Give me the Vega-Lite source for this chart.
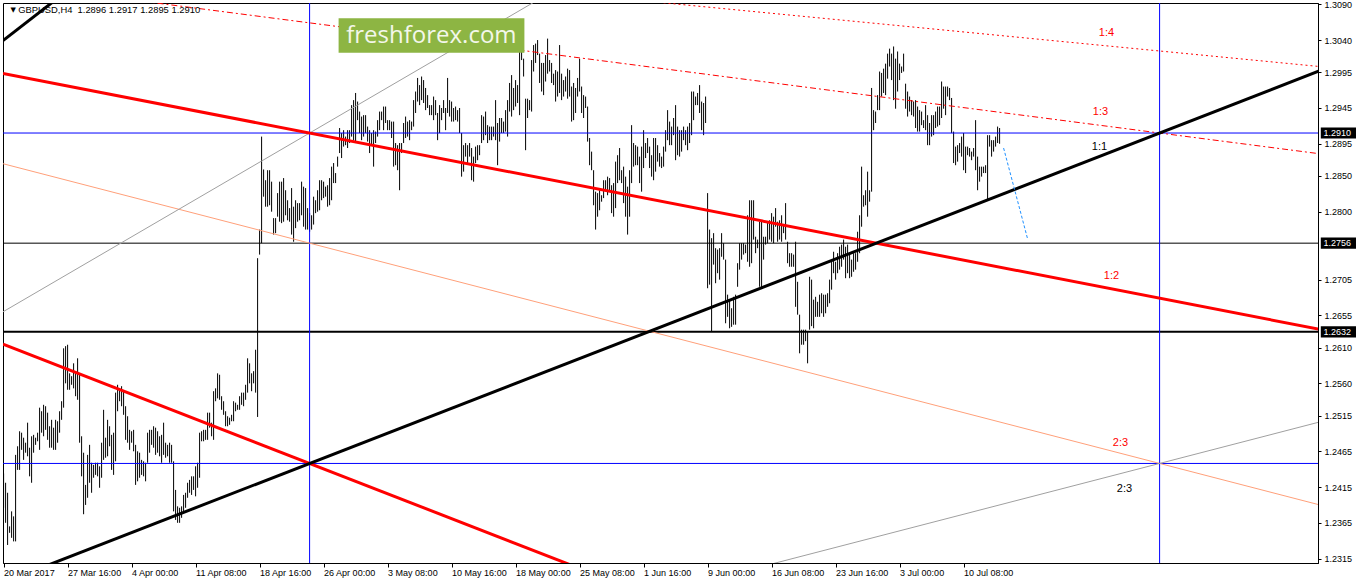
{
"$schema":"https://vega.github.io/schema/vega-lite/v6.json",
"width":1315,"height":560,
"autosize":{"type":"none"},
"padding":{"left":3,"top":3,"right":40,"bottom":21},
"background":"white",
"config":{"view":{"stroke":"black","strokeWidth":1},"axis":{"labelFont":"Liberation Sans","labelFontSize":9,"labelColor":"#000","domainColor":"#000","tickColor":"#000","grid":false,"title":null,"labelOverlap":false,"labelFlush":false}},
"datasets":{
"bars":[
{"i":0,"h":1.2434,"l":1.2386},{"i":1,"h":1.2421,"l":1.2365},{"i":2,"h":1.2407,"l":1.2334},{"i":3,"h":1.2360,"l":1.2351},{"i":4,"h":1.2381,"l":1.2344},{"i":5,"h":1.2374,"l":1.2339},{"i":6,"h":1.2460,"l":1.2339},{"i":7,"h":1.2472,"l":1.2439},{"i":8,"h":1.2493,"l":1.2439},{"i":9,"h":1.2491,"l":1.2467},
{"i":10,"h":1.2484,"l":1.2453},{"i":11,"h":1.2477,"l":1.2463},{"i":12,"h":1.2505,"l":1.2458},{"i":13,"h":1.2470,"l":1.2430},{"i":14,"h":1.2486,"l":1.2421},{"i":15,"h":1.2488,"l":1.2463},{"i":16,"h":1.2484,"l":1.2474},{"i":17,"h":1.2491,"l":1.2479},{"i":18,"h":1.2526,"l":1.2467},{"i":19,"h":1.2521,"l":1.2491},
{"i":20,"h":1.2530,"l":1.2486},{"i":21,"h":1.2528,"l":1.2495},{"i":22,"h":1.2519,"l":1.2481},{"i":23,"h":1.2500,"l":1.2470},{"i":24,"h":1.2509,"l":1.2470},{"i":25,"h":1.2498,"l":1.2467},{"i":26,"h":1.2509,"l":1.2467},{"i":27,"h":1.2507,"l":1.2477},{"i":28,"h":1.2521,"l":1.2491},{"i":29,"h":1.2535,"l":1.2509},
{"i":30,"h":1.2609,"l":1.2526},{"i":31,"h":1.2612,"l":1.2560},{"i":32,"h":1.2614,"l":1.2551},{"i":33,"h":1.2574,"l":1.2551},{"i":34,"h":1.2570,"l":1.2558},{"i":35,"h":1.2588,"l":1.2553},{"i":36,"h":1.2577,"l":1.2542},{"i":37,"h":1.2595,"l":1.2537},{"i":38,"h":1.2574,"l":1.2477},{"i":39,"h":1.2486,"l":1.2430},
{"i":40,"h":1.2463,"l":1.2377},{"i":41,"h":1.2418,"l":1.2390},{"i":42,"h":1.2460,"l":1.2400},{"i":43,"h":1.2474,"l":1.2421},{"i":44,"h":1.2449,"l":1.2407},{"i":45,"h":1.2446,"l":1.2428},{"i":46,"h":1.2449,"l":1.2432},{"i":47,"h":1.2449,"l":1.2430},{"i":48,"h":1.2444,"l":1.2414},{"i":49,"h":1.2477,"l":1.2428},
{"i":50,"h":1.2523,"l":1.2453},{"i":51,"h":1.2484,"l":1.2456},{"i":52,"h":1.2509,"l":1.2458},{"i":53,"h":1.2500,"l":1.2472},{"i":54,"h":1.2488,"l":1.2439},{"i":55,"h":1.2491,"l":1.2432},{"i":56,"h":1.2547,"l":1.2451},{"i":57,"h":1.2558,"l":1.2521},{"i":58,"h":1.2553,"l":1.2535},{"i":59,"h":1.2556,"l":1.2528},
{"i":60,"h":1.2549,"l":1.2516},{"i":61,"h":1.2528,"l":1.2481},{"i":62,"h":1.2514,"l":1.2477},{"i":63,"h":1.2495,"l":1.2467},{"i":64,"h":1.2493,"l":1.2477},{"i":65,"h":1.2495,"l":1.2465},{"i":66,"h":1.2474,"l":1.2418},{"i":67,"h":1.2465,"l":1.2423},{"i":68,"h":1.2463,"l":1.2428},{"i":69,"h":1.2453,"l":1.2432},
{"i":70,"h":1.2451,"l":1.2430},{"i":71,"h":1.2449,"l":1.2423},{"i":72,"h":1.2491,"l":1.2449},{"i":73,"h":1.2495,"l":1.2463},{"i":74,"h":1.2495,"l":1.2474},{"i":75,"h":1.2500,"l":1.2470},{"i":76,"h":1.2498,"l":1.2460},{"i":77,"h":1.2493,"l":1.2463},{"i":78,"h":1.2486,"l":1.2458},{"i":79,"h":1.2488,"l":1.2449},
{"i":80,"h":1.2505,"l":1.2460},{"i":81,"h":1.2477,"l":1.2456},{"i":82,"h":1.2474,"l":1.2458},{"i":83,"h":1.2477,"l":1.2449},{"i":84,"h":1.2474,"l":1.2449},{"i":85,"h":1.2451,"l":1.2381},{"i":86,"h":1.2411,"l":1.2369},{"i":87,"h":1.2388,"l":1.2365},{"i":88,"h":1.2386,"l":1.2365},{"i":89,"h":1.2388,"l":1.2372},
{"i":90,"h":1.2404,"l":1.2379},{"i":91,"h":1.2407,"l":1.2386},{"i":92,"h":1.2421,"l":1.2400},{"i":93,"h":1.2425,"l":1.2407},{"i":94,"h":1.2430,"l":1.2404},{"i":95,"h":1.2430,"l":1.2411},{"i":96,"h":1.2444,"l":1.2402},{"i":97,"h":1.2449,"l":1.2414},{"i":98,"h":1.2491,"l":1.2428},{"i":99,"h":1.2493,"l":1.2479},
{"i":100,"h":1.2495,"l":1.2479},{"i":101,"h":1.2495,"l":1.2481},{"i":102,"h":1.2519,"l":1.2481},{"i":103,"h":1.2519,"l":1.2498},{"i":104,"h":1.2505,"l":1.2486},{"i":105,"h":1.2549,"l":1.2481},{"i":106,"h":1.2553,"l":1.2535},{"i":107,"h":1.2574,"l":1.2539},{"i":108,"h":1.2572,"l":1.2537},{"i":109,"h":1.2542,"l":1.2523},
{"i":110,"h":1.2535,"l":1.2516},{"i":111,"h":1.2521,"l":1.2500},{"i":112,"h":1.2514,"l":1.2500},{"i":113,"h":1.2512,"l":1.2502},{"i":114,"h":1.2516,"l":1.2507},{"i":115,"h":1.2535,"l":1.2507},{"i":116,"h":1.2533,"l":1.2521},{"i":117,"h":1.2530,"l":1.2523},{"i":118,"h":1.2542,"l":1.2523},{"i":119,"h":1.2547,"l":1.2530},
{"i":120,"h":1.2547,"l":1.2528},{"i":121,"h":1.2558,"l":1.2537},{"i":122,"h":1.2595,"l":1.2547},{"i":123,"h":1.2588,"l":1.2560},{"i":124,"h":1.2574,"l":1.2549},{"i":125,"h":1.2577,"l":1.2560},{"i":126,"h":1.2607,"l":1.2547},{"i":127,"h":1.2735,"l":1.2513},{"i":128,"h":1.2775,"l":1.2740},{"i":129,"h":1.2905,"l":1.2756},
{"i":130,"h":1.2859,"l":1.2821},{"i":131,"h":1.2844,"l":1.2807},{"i":132,"h":1.2858,"l":1.2807},{"i":133,"h":1.2858,"l":1.2809},{"i":134,"h":1.2842,"l":1.2800},{"i":135,"h":1.2791,"l":1.2768},{"i":136,"h":1.2791,"l":1.2770},{"i":137,"h":1.2826,"l":1.2793},{"i":138,"h":1.2842,"l":1.2786},{"i":139,"h":1.2842,"l":1.2784},
{"i":140,"h":1.2847,"l":1.2786},{"i":141,"h":1.2830,"l":1.2795},{"i":142,"h":1.2816,"l":1.2788},{"i":143,"h":1.2805,"l":1.2786},{"i":144,"h":1.2833,"l":1.2768},{"i":145,"h":1.2807,"l":1.2758},{"i":146,"h":1.2816,"l":1.2777},{"i":147,"h":1.2812,"l":1.2786},{"i":148,"h":1.2812,"l":1.2788},{"i":149,"h":1.2842,"l":1.2795},
{"i":150,"h":1.2835,"l":1.2779},{"i":151,"h":1.2833,"l":1.2775},{"i":152,"h":1.2805,"l":1.2775},{"i":153,"h":1.2798,"l":1.2772},{"i":154,"h":1.2795,"l":1.2775},{"i":155,"h":1.2821,"l":1.2782},{"i":156,"h":1.2816,"l":1.2798},{"i":157,"h":1.2830,"l":1.2800},{"i":158,"h":1.2844,"l":1.2802},{"i":159,"h":1.2844,"l":1.2816},
{"i":160,"h":1.2842,"l":1.2819},{"i":161,"h":1.2835,"l":1.2821},{"i":162,"h":1.2837,"l":1.2807},{"i":163,"h":1.2847,"l":1.2809},{"i":164,"h":1.2863,"l":1.2816},{"i":165,"h":1.2868,"l":1.2840},{"i":166,"h":1.2854,"l":1.2840},{"i":167,"h":1.2877,"l":1.2863},{"i":168,"h":1.2917,"l":1.2882},{"i":169,"h":1.2910,"l":1.2875},
{"i":170,"h":1.2914,"l":1.2891},{"i":171,"h":1.2905,"l":1.2893},{"i":172,"h":1.2914,"l":1.2889},{"i":173,"h":1.2914,"l":1.2896},{"i":174,"h":1.2949,"l":1.2905},{"i":175,"h":1.2956,"l":1.2900},{"i":176,"h":1.2966,"l":1.2896},{"i":177,"h":1.2954,"l":1.2928},{"i":178,"h":1.2940,"l":1.2910},{"i":179,"h":1.2933,"l":1.2900},
{"i":180,"h":1.2935,"l":1.2905},{"i":181,"h":1.2935,"l":1.2910},{"i":182,"h":1.2919,"l":1.2898},{"i":183,"h":1.2914,"l":1.2882},{"i":184,"h":1.2910,"l":1.2893},{"i":185,"h":1.2914,"l":1.2863},{"i":186,"h":1.2912,"l":1.2896},{"i":187,"h":1.2928,"l":1.2905},{"i":188,"h":1.2940,"l":1.2914},{"i":189,"h":1.2940,"l":1.2928},
{"i":190,"h":1.2947,"l":1.2914},{"i":191,"h":1.2947,"l":1.2924},{"i":192,"h":1.2928,"l":1.2914},{"i":193,"h":1.2928,"l":1.2914},{"i":194,"h":1.2926,"l":1.2903},{"i":195,"h":1.2926,"l":1.2863},{"i":196,"h":1.2896,"l":1.2865},{"i":197,"h":1.2893,"l":1.2858},{"i":198,"h":1.2896,"l":1.2830},{"i":199,"h":1.2896,"l":1.2882},
{"i":200,"h":1.2924,"l":1.2896},{"i":201,"h":1.2933,"l":1.2903},{"i":202,"h":1.2926,"l":1.2905},{"i":203,"h":1.2928,"l":1.2900},{"i":204,"h":1.2926,"l":1.2914},{"i":205,"h":1.2956,"l":1.2919},{"i":206,"h":1.2968,"l":1.2938},{"i":207,"h":1.2987,"l":1.2954},{"i":208,"h":1.2977,"l":1.2949},{"i":209,"h":1.2989,"l":1.2956},
{"i":210,"h":1.2984,"l":1.2952},{"i":211,"h":1.2973,"l":1.2942},{"i":212,"h":1.2963,"l":1.2945},{"i":213,"h":1.2949,"l":1.2935},{"i":214,"h":1.2949,"l":1.2935},{"i":215,"h":1.2961,"l":1.2928},{"i":216,"h":1.2956,"l":1.2935},{"i":217,"h":1.2938,"l":1.2900},{"i":218,"h":1.2949,"l":1.2910},{"i":219,"h":1.2945,"l":1.2928},
{"i":220,"h":1.2956,"l":1.2938},{"i":221,"h":1.2945,"l":1.2914},{"i":222,"h":1.2987,"l":1.2938},{"i":223,"h":1.2956,"l":1.2933},{"i":224,"h":1.2954,"l":1.2926},{"i":225,"h":1.2945,"l":1.2926},{"i":226,"h":1.2947,"l":1.2928},{"i":227,"h":1.2942,"l":1.2926},{"i":228,"h":1.2945,"l":1.2910},{"i":229,"h":1.2910,"l":1.2849},
{"i":230,"h":1.2893,"l":1.2856},{"i":231,"h":1.2896,"l":1.2877},{"i":232,"h":1.2893,"l":1.2868},{"i":233,"h":1.2896,"l":1.2877},{"i":234,"h":1.2889,"l":1.2844},{"i":235,"h":1.2877,"l":1.2842},{"i":236,"h":1.2891,"l":1.2868},{"i":237,"h":1.2893,"l":1.2872},{"i":238,"h":1.2893,"l":1.2879},{"i":239,"h":1.2935,"l":1.2896},
{"i":240,"h":1.2933,"l":1.2900},{"i":241,"h":1.2940,"l":1.2907},{"i":242,"h":1.2921,"l":1.2896},{"i":243,"h":1.2919,"l":1.2900},{"i":244,"h":1.2919,"l":1.2900},{"i":245,"h":1.2919,"l":1.2905},{"i":246,"h":1.2956,"l":1.2900},{"i":247,"h":1.2924,"l":1.2865},{"i":248,"h":1.2931,"l":1.2898},{"i":249,"h":1.2931,"l":1.2910},
{"i":250,"h":1.2926,"l":1.2910},{"i":251,"h":1.2942,"l":1.2912},{"i":252,"h":1.2956,"l":1.2905},{"i":253,"h":1.2980,"l":1.2940},{"i":254,"h":1.2991,"l":1.2933},{"i":255,"h":1.2973,"l":1.2942},{"i":256,"h":1.2984,"l":1.2947},{"i":257,"h":1.2977,"l":1.2952},{"i":258,"h":1.3028,"l":1.2935},{"i":259,"h":1.3035,"l":1.3012},
{"i":260,"h":1.3014,"l":1.2989},{"i":261,"h":1.2958,"l":1.2886},{"i":262,"h":1.2958,"l":1.2931},{"i":263,"h":1.2956,"l":1.2942},{"i":264,"h":1.3012,"l":1.2940},{"i":265,"h":1.3033,"l":1.2996},{"i":266,"h":1.3035,"l":1.3008},{"i":267,"h":1.3040,"l":1.3019},{"i":268,"h":1.3021,"l":1.2980},{"i":269,"h":1.3008,"l":1.2968},
{"i":270,"h":1.3008,"l":1.2963},{"i":271,"h":1.3019,"l":1.2982},{"i":272,"h":1.3042,"l":1.2993},{"i":273,"h":1.3012,"l":1.2996},{"i":274,"h":1.3008,"l":1.2980},{"i":275,"h":1.2993,"l":1.2977},{"i":276,"h":1.2998,"l":1.2954},{"i":277,"h":1.2996,"l":1.2961},{"i":278,"h":1.3033,"l":1.2966},{"i":279,"h":1.2993,"l":1.2956},
{"i":280,"h":1.2984,"l":1.2961},{"i":281,"h":1.2989,"l":1.2968},{"i":282,"h":1.3000,"l":1.2958},{"i":283,"h":1.2998,"l":1.2961},{"i":284,"h":1.2975,"l":1.2926},{"i":285,"h":1.2980,"l":1.2928},{"i":286,"h":1.2973,"l":1.2938},{"i":287,"h":1.2987,"l":1.2961},{"i":288,"h":1.3014,"l":1.2968},{"i":289,"h":1.2975,"l":1.2938},
{"i":290,"h":1.2963,"l":1.2931},{"i":291,"h":1.2961,"l":1.2945},{"i":292,"h":1.2947,"l":1.2898},{"i":293,"h":1.2903,"l":1.2865},{"i":294,"h":1.2884,"l":1.2858},{"i":295,"h":1.2858,"l":1.2809},{"i":296,"h":1.2828,"l":1.2775},{"i":297,"h":1.2826,"l":1.2793},{"i":298,"h":1.2830,"l":1.2802},{"i":299,"h":1.2823,"l":1.2814},
{"i":300,"h":1.2844,"l":1.2819},{"i":301,"h":1.2844,"l":1.2830},{"i":302,"h":1.2849,"l":1.2823},{"i":303,"h":1.2847,"l":1.2830},{"i":304,"h":1.2837,"l":1.2798},{"i":305,"h":1.2840,"l":1.2793},{"i":306,"h":1.2870,"l":1.2805},{"i":307,"h":1.2879,"l":1.2840},{"i":308,"h":1.2889,"l":1.2844},{"i":309,"h":1.2858,"l":1.2840},
{"i":310,"h":1.2863,"l":1.2812},{"i":311,"h":1.2849,"l":1.2793},{"i":312,"h":1.2835,"l":1.2768},{"i":313,"h":1.2858,"l":1.2793},{"i":314,"h":1.2921,"l":1.2840},{"i":315,"h":1.2896,"l":1.2863},{"i":316,"h":1.2893,"l":1.2865},{"i":317,"h":1.2891,"l":1.2865},{"i":318,"h":1.2877,"l":1.2840},{"i":319,"h":1.2891,"l":1.2828},
{"i":320,"h":1.2914,"l":1.2861},{"i":321,"h":1.2896,"l":1.2875},{"i":322,"h":1.2903,"l":1.2882},{"i":323,"h":1.2891,"l":1.2861},{"i":324,"h":1.2879,"l":1.2849},{"i":325,"h":1.2903,"l":1.2844},{"i":326,"h":1.2903,"l":1.2856},{"i":327,"h":1.2893,"l":1.2870},{"i":328,"h":1.2882,"l":1.2863},{"i":329,"h":1.2877,"l":1.2861},
{"i":330,"h":1.2891,"l":1.2863},{"i":331,"h":1.2914,"l":1.2884},{"i":332,"h":1.2942,"l":1.2900},{"i":333,"h":1.2926,"l":1.2893},{"i":334,"h":1.2919,"l":1.2893},{"i":335,"h":1.2931,"l":1.2907},{"i":336,"h":1.2949,"l":1.2872},{"i":337,"h":1.2919,"l":1.2879},{"i":338,"h":1.2914,"l":1.2877},{"i":339,"h":1.2914,"l":1.2884},
{"i":340,"h":1.2919,"l":1.2900},{"i":341,"h":1.2914,"l":1.2893},{"i":342,"h":1.2919,"l":1.2886},{"i":343,"h":1.2924,"l":1.2896},{"i":344,"h":1.2968,"l":1.2907},{"i":345,"h":1.2968,"l":1.2928},{"i":346,"h":1.2961,"l":1.2949},{"i":347,"h":1.2966,"l":1.2949},{"i":348,"h":1.2977,"l":1.2938},{"i":349,"h":1.2954,"l":1.2914},
{"i":350,"h":1.2952,"l":1.2907},{"i":351,"h":1.2961,"l":1.2924},{"i":352,"h":1.2826,"l":1.2693},{"i":353,"h":1.2775,"l":1.2698},{"i":354,"h":1.2763,"l":1.2632},{"i":355,"h":1.2770,"l":1.2726},{"i":356,"h":1.2749,"l":1.2700},{"i":357,"h":1.2747,"l":1.2714},{"i":358,"h":1.2749,"l":1.2705},{"i":359,"h":1.2770,"l":1.2737},
{"i":360,"h":1.2756,"l":1.2733},{"i":361,"h":1.2733,"l":1.2644},{"i":362,"h":1.2684,"l":1.2653},{"i":363,"h":1.2677,"l":1.2637},{"i":364,"h":1.2665,"l":1.2639},{"i":365,"h":1.2681,"l":1.2642},{"i":366,"h":1.2684,"l":1.2642},{"i":367,"h":1.2728,"l":1.2695},{"i":368,"h":1.2756,"l":1.2719},{"i":369,"h":1.2756,"l":1.2733},
{"i":370,"h":1.2756,"l":1.2740},{"i":371,"h":1.2754,"l":1.2742},{"i":372,"h":1.2795,"l":1.2730},{"i":373,"h":1.2816,"l":1.2723},{"i":374,"h":1.2816,"l":1.2728},{"i":375,"h":1.2816,"l":1.2761},{"i":376,"h":1.2765,"l":1.2742},{"i":377,"h":1.2761,"l":1.2749},{"i":378,"h":1.2786,"l":1.2695},{"i":379,"h":1.2786,"l":1.2693},
{"i":380,"h":1.2765,"l":1.2733},{"i":381,"h":1.2765,"l":1.2754},{"i":382,"h":1.2786,"l":1.2756},{"i":383,"h":1.2788,"l":1.2761},{"i":384,"h":1.2798,"l":1.2758},{"i":385,"h":1.2793,"l":1.2756},{"i":386,"h":1.2805,"l":1.2779},{"i":387,"h":1.2786,"l":1.2758},{"i":388,"h":1.2788,"l":1.2761},{"i":389,"h":1.2795,"l":1.2758},
{"i":390,"h":1.2781,"l":1.2770},{"i":391,"h":1.2812,"l":1.2761},{"i":392,"h":1.2758,"l":1.2728},{"i":393,"h":1.2742,"l":1.2723},{"i":394,"h":1.2742,"l":1.2723},{"i":395,"h":1.2740,"l":1.2723},{"i":396,"h":1.2758,"l":1.2667},{"i":397,"h":1.2702,"l":1.2656},{"i":398,"h":1.2656,"l":1.2602},{"i":399,"h":1.2635,"l":1.2614},
{"i":400,"h":1.2635,"l":1.2614},{"i":401,"h":1.2635,"l":1.2619},{"i":402,"h":1.2632,"l":1.2588},{"i":403,"h":1.2709,"l":1.2635},{"i":404,"h":1.2705,"l":1.2640},{"i":405,"h":1.2677,"l":1.2637},{"i":406,"h":1.2681,"l":1.2653},{"i":407,"h":1.2674,"l":1.2653},{"i":408,"h":1.2684,"l":1.2653},{"i":409,"h":1.2686,"l":1.2658},
{"i":410,"h":1.2684,"l":1.2653},{"i":411,"h":1.2684,"l":1.2658},{"i":412,"h":1.2686,"l":1.2667},{"i":413,"h":1.2705,"l":1.2672},{"i":414,"h":1.2730,"l":1.2691},{"i":415,"h":1.2744,"l":1.2714},{"i":416,"h":1.2730,"l":1.2705},{"i":417,"h":1.2742,"l":1.2714},{"i":418,"h":1.2751,"l":1.2719},{"i":419,"h":1.2754,"l":1.2723},
{"i":420,"h":1.2761,"l":1.2733},{"i":421,"h":1.2751,"l":1.2707},{"i":422,"h":1.2754,"l":1.2714},{"i":423,"h":1.2742,"l":1.2707},{"i":424,"h":1.2733,"l":1.2709},{"i":425,"h":1.2742,"l":1.2716},{"i":426,"h":1.2742,"l":1.2719},{"i":427,"h":1.2772,"l":1.2730},{"i":428,"h":1.2795,"l":1.2742},{"i":429,"h":1.2863,"l":1.2779},
{"i":430,"h":1.2823,"l":1.2807},{"i":431,"h":1.2830,"l":1.2809},{"i":432,"h":1.2856,"l":1.2793},{"i":433,"h":1.2830,"l":1.2814},{"i":434,"h":1.2973,"l":1.2828},{"i":435,"h":1.2942,"l":1.2914},{"i":436,"h":1.2940,"l":1.2924},{"i":437,"h":1.2963,"l":1.2942},{"i":438,"h":1.2996,"l":1.2942},{"i":439,"h":1.2994,"l":1.2961},
{"i":440,"h":1.3000,"l":1.2966},{"i":441,"h":1.3007,"l":1.2963},{"i":442,"h":1.3021,"l":1.2986},{"i":443,"h":1.3028,"l":1.3003},{"i":444,"h":1.3021,"l":1.2984},{"i":445,"h":1.3031,"l":1.2956},{"i":446,"h":1.3014,"l":1.2944},{"i":447,"h":1.3024,"l":1.2968},{"i":448,"h":1.3007,"l":1.2984},{"i":449,"h":1.3003,"l":1.2994},
{"i":450,"h":1.3021,"l":1.2996},{"i":451,"h":1.2979,"l":1.2944},{"i":452,"h":1.2968,"l":1.2933},{"i":453,"h":1.2961,"l":1.2940},{"i":454,"h":1.2956,"l":1.2935},{"i":455,"h":1.2954,"l":1.2933},{"i":456,"h":1.2956,"l":1.2917},{"i":457,"h":1.2947,"l":1.2912},{"i":458,"h":1.2942,"l":1.2912},{"i":459,"h":1.2940,"l":1.2921},
{"i":460,"h":1.2928,"l":1.2917},{"i":461,"h":1.2949,"l":1.2914},{"i":462,"h":1.2935,"l":1.2893},{"i":463,"h":1.2924,"l":1.2893},{"i":464,"h":1.2935,"l":1.2905},{"i":465,"h":1.2935,"l":1.2907},{"i":466,"h":1.2940,"l":1.2917},{"i":467,"h":1.2947,"l":1.2919},{"i":468,"h":1.2947,"l":1.2921},{"i":469,"h":1.2982,"l":1.2931},
{"i":470,"h":1.2975,"l":1.2944},{"i":471,"h":1.2975,"l":1.2935},{"i":472,"h":1.2975,"l":1.2961},{"i":473,"h":1.2973,"l":1.2956},{"i":474,"h":1.2959,"l":1.2910},{"i":475,"h":1.2912,"l":1.2868},{"i":476,"h":1.2891,"l":1.2865},{"i":477,"h":1.2893,"l":1.2870},{"i":478,"h":1.2896,"l":1.2882},{"i":479,"h":1.2905,"l":1.2877},
{"i":480,"h":1.2910,"l":1.2858},{"i":481,"h":1.2891,"l":1.2854},{"i":482,"h":1.2891,"l":1.2879},{"i":483,"h":1.2889,"l":1.2877},{"i":484,"h":1.2884,"l":1.2872},{"i":485,"h":1.2889,"l":1.2877},{"i":486,"h":1.2928,"l":1.2858},{"i":487,"h":1.2877,"l":1.2830},{"i":488,"h":1.2863,"l":1.2842},{"i":489,"h":1.2863,"l":1.2849},
{"i":490,"h":1.2863,"l":1.2854},{"i":491,"h":1.2865,"l":1.2854},{"i":492,"h":1.2907,"l":1.2816},{"i":493,"h":1.2907,"l":1.2891},{"i":494,"h":1.2900,"l":1.2877},{"i":495,"h":1.2900,"l":1.2884},{"i":496,"h":1.2905,"l":1.2891},{"i":497,"h":1.2919,"l":1.2896},{"i":498,"h":1.2917,"l":1.2895}
],
"segments":[
{"k":"1:1","a":-0.3,"pa":1.22814,"b":657.5,"pb":1.29964},
{"k":"2:1","a":-0.3,"pa":1.30391,"b":30,"pb":1.3105},
{"k":"1:2","a":-0.3,"pa":1.29933,"b":657.5,"pb":1.26358},
{"k":"1:1 down","a":-0.3,"pa":1.26147,"b":300,"pb":1.22882},
{"k":"2:3 down","a":-0.3,"pa":1.28671,"b":657.5,"pb":1.23904},
{"k":"2:3 up","a":380,"pa":1.23045,"b":657.5,"pb":1.25056},
{"k":"3:2","a":-0.3,"pa":1.266,"b":270,"pb":1.31008},
{"k":"1:3","a":70,"pa":1.30941,"b":657.5,"pb":1.28812},
{"k":"1:4","a":320,"pa":1.30948,"b":657.5,"pb":1.30031},
{"k":"forecast","a":500,"pa":1.2889,"b":512,"pb":1.2762}
]
},
"layer":[
{"data":{"name":"bars"},"mark":{"type":"rule","stroke":"#000","strokeWidth":1},
 "encoding":{
  "x":{"field":"i","type":"quantitative","scale":{"domain":[-0.3,657.2],"nice":false,"zero":false},
       "axis":{"orient":"bottom","title":null,"tickCount":40,"values":[0,32,64,96,128,160,192,224,256,288,320,352,384,416,448,480],
       "labelExpr":"datum.value < 16 ? '20 Mar 2017' : datum.value < 48 ? '27 Mar 16:00' : datum.value < 80 ? '4 Apr 00:00' : datum.value < 112 ? '11 Apr 08:00' : datum.value < 144 ? '18 Apr 16:00' : datum.value < 176 ? '26 Apr 00:00' : datum.value < 208 ? '3 May 08:00' : datum.value < 240 ? '10 May 16:00' : datum.value < 272 ? '18 May 00:00' : datum.value < 304 ? '25 May 08:00' : datum.value < 336 ? '1 Jun 16:00' : datum.value < 368 ? '9 Jun 00:00' : datum.value < 400 ? '16 Jun 08:00' : datum.value < 432 ? '23 Jun 16:00' : datum.value < 464 ? '3 Jul 00:00' : '10 Jul 08:00'",
       "labelAlign":"left","labelOverlap":false,"labelFlush":false,"tickSize":4,"labelPadding":1,"labelBaseline":"top"}},
  "y":{"field":"l","type":"quantitative","scale":{"domain":[1.23088,1.30918],"nice":false,"zero":false},
       "axis":{"orient":"right","title":null,"tickCount":40,"values":[1.309,1.304,1.2995,1.2945,1.2895,1.285,1.28,1.2705,1.2655,1.261,1.256,1.2515,1.2465,1.2415,1.2365,1.2315],
       "format":".4f","tickSize":3,"labelPadding":3,"labelOverlap":false,"labelFlush":false}},
  "y2":{"field":"h"}}},
{"data":{"values":[{"p":1.2910},{"p":1.2448}]},"mark":{"type":"rule","stroke":"#0000ff","strokeWidth":1},
 "encoding":{"y":{"field":"p","type":"quantitative","axis":{"title":null,"labelOverlap":false}}}},
{"data":{"values":[{"p":1.2756}]},"mark":{"type":"rule","stroke":"#000","strokeWidth":1},
 "encoding":{"y":{"field":"p","type":"quantitative","axis":{"title":null,"labelOverlap":false}}}},
{"data":{"values":[{"p":1.2632}]},"mark":{"type":"rule","stroke":"#000","strokeWidth":2},
 "encoding":{"y":{"field":"p","type":"quantitative","axis":{"title":null,"labelOverlap":false}}}},
{"data":{"values":[{"i":153},{"i":578}]},"mark":{"type":"rule","stroke":"#0000ff","strokeWidth":1},
 "encoding":{"x":{"field":"i","type":"quantitative","axis":{"title":null,"labelOverlap":false}}}},
{"data":{"name":"segments"},"transform":[{"filter":{"field":"k","oneOf":["2:3 down"]}}],
 "mark":{"type":"rule","stroke":"#ffa07a","strokeWidth":1,"clip":true},
 "encoding":{"x":{"field":"a","type":"quantitative","axis":{"title":null,"labelOverlap":false}},"y":{"field":"pa","type":"quantitative","axis":{"title":null,"labelOverlap":false}},"x2":{"field":"b"},"y2":{"field":"pb"}}},
{"data":{"name":"segments"},"transform":[{"filter":{"field":"k","oneOf":["2:3 up","3:2"]}}],
 "mark":{"type":"rule","stroke":"#a0a0a0","strokeWidth":1,"clip":true},
 "encoding":{"x":{"field":"a","type":"quantitative","axis":{"title":null,"labelOverlap":false}},"y":{"field":"pa","type":"quantitative","axis":{"title":null,"labelOverlap":false}},"x2":{"field":"b"},"y2":{"field":"pb"}}},
{"data":{"name":"segments"},"transform":[{"filter":{"field":"k","oneOf":["1:3"]}}],
 "mark":{"type":"rule","stroke":"#ff0000","strokeWidth":1,"strokeDash":[6,3,2,3],"clip":true},
 "encoding":{"x":{"field":"a","type":"quantitative","axis":{"title":null,"labelOverlap":false}},"y":{"field":"pa","type":"quantitative","axis":{"title":null,"labelOverlap":false}},"x2":{"field":"b"},"y2":{"field":"pb"}}},
{"data":{"name":"segments"},"transform":[{"filter":{"field":"k","oneOf":["1:4"]}}],
 "mark":{"type":"rule","stroke":"#ff0000","strokeWidth":1,"strokeDash":[2,3],"clip":true},
 "encoding":{"x":{"field":"a","type":"quantitative","axis":{"title":null,"labelOverlap":false}},"y":{"field":"pa","type":"quantitative","axis":{"title":null,"labelOverlap":false}},"x2":{"field":"b"},"y2":{"field":"pb"}}},
{"data":{"name":"segments"},"transform":[{"filter":{"field":"k","oneOf":["1:2","1:1 down"]}}],
 "mark":{"type":"rule","stroke":"#ff0000","strokeWidth":3,"clip":true},
 "encoding":{"x":{"field":"a","type":"quantitative","axis":{"title":null,"labelOverlap":false}},"y":{"field":"pa","type":"quantitative","axis":{"title":null,"labelOverlap":false}},"x2":{"field":"b"},"y2":{"field":"pb"}}},
{"data":{"name":"segments"},"transform":[{"filter":{"field":"k","oneOf":["1:1","2:1"]}}],
 "mark":{"type":"rule","stroke":"#000","strokeWidth":3,"clip":true},
 "encoding":{"x":{"field":"a","type":"quantitative","axis":{"title":null,"labelOverlap":false}},"y":{"field":"pa","type":"quantitative","axis":{"title":null,"labelOverlap":false}},"x2":{"field":"b"},"y2":{"field":"pb"}}},
{"data":{"name":"segments"},"transform":[{"filter":{"field":"k","oneOf":["forecast"]}}],
 "mark":{"type":"rule","stroke":"#1e90ff","strokeWidth":1,"strokeDash":[3,2],"clip":true},
 "encoding":{"x":{"field":"a","type":"quantitative","axis":{"title":null,"labelOverlap":false}},"y":{"field":"pa","type":"quantitative","axis":{"title":null,"labelOverlap":false}},"x2":{"field":"b"},"y2":{"field":"pb"}}},
{"data":{"values":[{"i":551.4,"p":1.30499,"t":"1:4"},{"i":548.4,"p":1.29395,"t":"1:3"},{"i":553.9,"p":1.27103,"t":"1:2"},{"i":558.4,"p":1.24769,"t":"2:3"}]},
 "mark":{"type":"text","color":"#ff0000","font":"Liberation Sans","fontSize":11,"align":"center","baseline":"middle"},
 "encoding":{"x":{"field":"i","type":"quantitative","axis":{"title":null,"labelOverlap":false}},"y":{"field":"p","type":"quantitative","axis":{"title":null,"labelOverlap":false}},"text":{"field":"t"}}},
{"data":{"values":[{"i":547.9,"p":1.28906,"t":"1:1"},{"i":560.4,"p":1.24126,"t":"2:3"}]},
 "mark":{"type":"text","color":"#000","font":"Liberation Sans","fontSize":11,"align":"center","baseline":"middle"},
 "encoding":{"x":{"field":"i","type":"quantitative","axis":{"title":null,"labelOverlap":false}},"y":{"field":"p","type":"quantitative","axis":{"title":null,"labelOverlap":false}},"text":{"field":"t"}}},
{"data":{"values":[{"a":167.5,"b":260.4,"top":1.30704,"bot":1.30224}]},
 "mark":{"type":"rect","fill":"#8db543"},
 "encoding":{"x":{"field":"a","type":"quantitative","axis":{"title":null,"labelOverlap":false}},"x2":{"field":"b"},"y":{"field":"top","type":"quantitative","axis":{"title":null,"labelOverlap":false}},"y2":{"field":"bot"}}},
{"data":{"values":[{"i":213.9,"p":1.30355,"t":"freshforex.com"}]},
 "mark":{"type":"text","color":"#f3f7ea","font":"Open Sans","fontSize":24,"align":"center","baseline":"alphabetic"},
 "encoding":{"x":{"field":"i","type":"quantitative","axis":{"title":null,"labelOverlap":false}},"y":{"field":"p","type":"quantitative","axis":{"title":null,"labelOverlap":false}},"text":{"field":"t"}}},
{"data":{"values":[{"i":7.3,"p":1.30816,"t":"GBPUSD,H4\u00a0 1.2896 1.2917 1.2895 1.2910"}]},
 "mark":{"type":"text","color":"#000","font":"Liberation Sans","fontSize":9.4,"align":"left","baseline":"middle"},
 "encoding":{"x":{"field":"i","type":"quantitative","axis":{"title":null,"labelOverlap":false}},"y":{"field":"p","type":"quantitative","axis":{"title":null,"labelOverlap":false}},"text":{"field":"t"}}},
{"data":{"values":[{"i":4.8,"p":1.30816,"t":"▼"}]},
 "mark":{"type":"text","color":"#000","font":"DejaVu Sans","fontSize":7,"align":"center","baseline":"middle"},
 "encoding":{"x":{"field":"i","type":"quantitative","axis":{"title":null,"labelOverlap":false}},"y":{"field":"p","type":"quantitative","axis":{"title":null,"labelOverlap":false}},"text":{"field":"t"}}},
{"data":{"values":[{"t":"1.2910","a":658.6,"b":676.2,"top":1.29178,"bot":1.29022},{"t":"1.2756","a":658.6,"b":676.2,"top":1.27638,"bot":1.27482},{"t":"1.2632","a":658.6,"b":676.2,"top":1.26398,"bot":1.26242}]},
 "mark":{"type":"rect","fill":"#000","clip":false},
 "encoding":{"x":{"field":"a","type":"quantitative","axis":{"title":null,"labelOverlap":false}},"x2":{"field":"b"},"y":{"field":"top","type":"quantitative","axis":{"title":null,"labelOverlap":false}},"y2":{"field":"bot"}}},
{"data":{"values":[{"t":"1.2910","i":659.9,"p":1.2910},{"t":"1.2756","i":659.9,"p":1.2756},{"t":"1.2632","i":659.9,"p":1.2632}]},
 "mark":{"type":"text","color":"#fff","font":"Liberation Sans","fontSize":9,"align":"left","baseline":"middle","clip":false},
 "encoding":{"x":{"field":"i","type":"quantitative","axis":{"title":null,"labelOverlap":false}},"y":{"field":"p","type":"quantitative","axis":{"title":null,"labelOverlap":false}},"text":{"field":"t"}}}
]
}
